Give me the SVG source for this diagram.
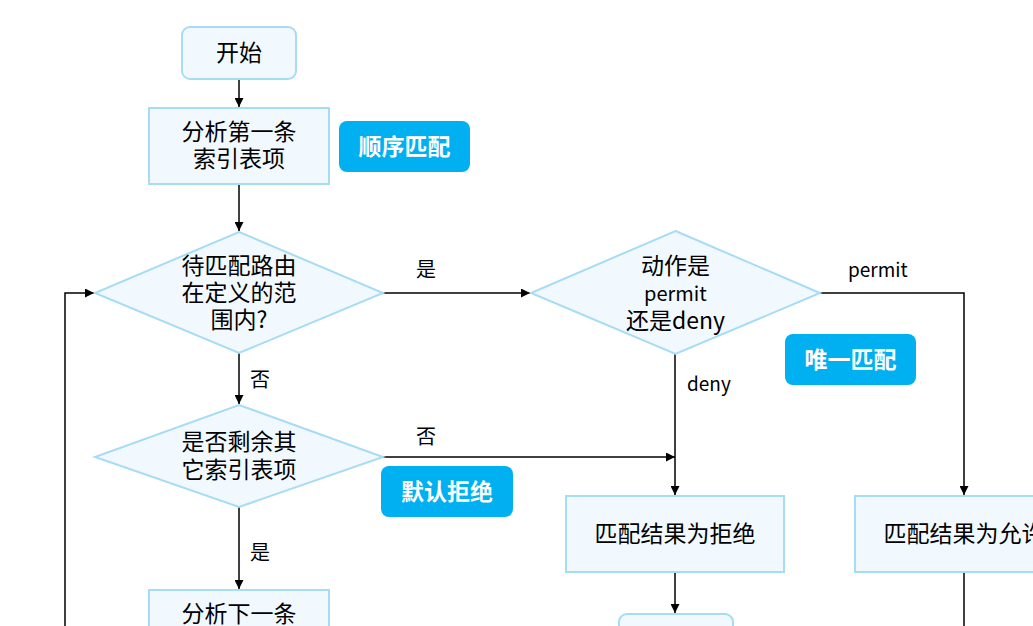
<svg xmlns="http://www.w3.org/2000/svg" width="1033" height="626" viewBox="0 0 1033 626">
<defs>
<style>
.n{fill:#f1f9fe;stroke:#a6dcf4;stroke-width:2}
.t{font-family:"Noto Sans CJK SC","Noto Sans",sans-serif;font-size:23px;fill:#000;text-anchor:middle}
.l{font-family:"Noto Sans CJK SC","Noto Sans",sans-serif;font-size:20px;fill:#000}
.e{font-family:"Noto Sans CJK SC","Noto Sans",sans-serif;font-size:19px;fill:#000}
.b{fill:#00b0f0}
.bt{font-family:"Noto Sans CJK SC","Noto Sans",sans-serif;font-size:23px;font-weight:bold;fill:#fff;text-anchor:middle}
.c{fill:none;stroke:#000;stroke-width:1.5}
</style>
<marker id="a" viewBox="0 0 10 10" refX="10" refY="5" markerWidth="9" markerHeight="9" markerUnits="userSpaceOnUse" orient="auto">
<path d="M0,0L10,5L0,10z" fill="#000"/>
</marker>
</defs>
<rect width="1033" height="626" fill="#fff"/>
<g id="connectors">
<path class="c" d="M239,79V107" marker-end="url(#a)"/>
<path class="c" d="M239,184V231" marker-end="url(#a)"/>
<path class="c" d="M383,293H530" marker-end="url(#a)"/>
<path class="c" d="M820,293H964V495" marker-end="url(#a)"/>
<path class="c" d="M675,354V495" marker-end="url(#a)"/>
<path class="c" d="M239,353V404" marker-end="url(#a)"/>
<path class="c" d="M383,457H675" marker-end="url(#a)"/>
<path class="c" d="M675,572V613" marker-end="url(#a)"/>
<path class="c" d="M964,572V626"/>
<path class="c" d="M239,507V589" marker-end="url(#a)"/>
<path class="c" d="M65,626V293H94" marker-end="url(#a)"/>
<text class="l" x="416" y="277">是</text>
<text class="l" x="250" y="387">否</text>
<text class="l" x="416" y="444">否</text>
<text class="l" x="250" y="560">是</text>
<text class="e" x="848" y="277">permit</text>
<text class="e" x="687" y="391">deny</text>
</g>
<g id="start"><rect class="n" x="182" y="27" width="114" height="52" rx="8"/><text class="t" x="239" y="61">开始</text></g>
<g id="first"><rect class="n" x="149" y="108" width="180" height="76"/><text class="t" x="239" y="140">分析第一条</text><text class="t" x="239" y="167">索引表项</text></g>
<g id="badge1"><rect class="b" x="339" y="121" width="131" height="51" rx="8"/><text class="bt" x="404.5" y="155">顺序匹配</text></g>
<g id="d1"><polygon class="n" points="239,232 383,293 239,353 95,293"/><text class="t" x="239" y="274">待匹配路由</text><text class="t" x="239" y="301">在定义的范</text><text class="t" x="239" y="328">围内?</text></g>
<g id="d2"><polygon class="n" points="675.5,231 820,293 675.5,354 531,293"/><text class="t" x="675.5" y="274">动作是</text><text class="t" x="675.5" y="301" style="font-size:20px">permit</text><text class="t" x="675.5" y="329">还是deny</text></g>
<g id="badge2"><rect class="b" x="785" y="334" width="131" height="51" rx="8"/><text class="bt" x="850.5" y="368">唯一匹配</text></g>
<g id="d3"><polygon class="n" points="239,405 383,457 239,507 95,457"/><text class="t" x="239" y="450">是否剩余其</text><text class="t" x="239" y="478">它索引表项</text></g>
<g id="badge3"><rect class="b" x="381" y="466" width="132" height="51" rx="8"/><text class="bt" x="447" y="500">默认拒绝</text></g>
<g id="deny"><rect class="n" x="566" y="496" width="218" height="76"/><text class="t" x="675" y="542">匹配结果为拒绝</text></g>
<g id="permit"><rect class="n" x="855" y="496" width="218" height="76"/><text class="t" x="964" y="542">匹配结果为允许</text></g>
<g id="end"><rect class="n" x="619" y="614" width="114" height="52" rx="8"/></g>
<g id="next"><rect class="n" x="149" y="590" width="180" height="76"/><text class="t" x="239" y="622">分析下一条</text></g>
</svg>
